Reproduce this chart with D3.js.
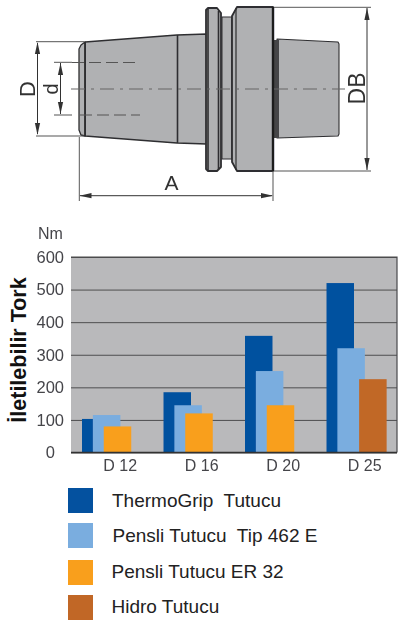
<!DOCTYPE html>
<html><head><meta charset="utf-8">
<script src="https://cdn.jsdelivr.net/npm/d3@7/dist/d3.min.js"></script>
<style>html,body{margin:0;padding:0;background:#fff}svg{display:block}text{font-family:"Liberation Sans",Arial,sans-serif}</style>
</head><body><svg id="c" width="401" height="625"><defs><filter id="soft" x="-5%" y="-5%" width="110%" height="110%"><feGaussianBlur stdDeviation="0.55"/></filter></defs></svg>
<script>
const categories = ["D 12","D 16","D 20","D 25"];
const seriesNames = ["ThermoGrip  Tutucu","Pensli Tutucu  Tip 462 E","Pensli Tutucu ER 32","Hidro Tutucu"];
const seriesColors = ["#04519f","#7aaddf","#f99f1c","#c16726"];
const thermoGrip = [103,185,358,520];
const pensli462 = [115,145,250,320];
const pensliER32 = [80,120,145,null];
const hidro = [null,null,null,225];
const tickValues = [0,100,200,300,400,500,600];
const allSeries = [thermoGrip,pensli462,pensliER32,hidro];

const svg = d3.select("#c");
const x = d3.scaleBand().domain(categories).range([71,397]);
const y = d3.scaleLinear().domain([0,600]).range([452.5,257]);
const sub = d3.scaleBand().domain(d3.range(4)).range([0,43.5]);

/* ---- technical drawing ---- */
const d = svg.append("g").attr("filter","url(#soft)");
const ink = "#2e2e30", body = "#b0b1b3";
const line = d3.line();
function shape(pts,w){
  d.append("path").attr("d",line(pts)+"Z").attr("fill",body)
   .attr("stroke",ink).attr("stroke-width",w).attr("stroke-linejoin","round");
}
shape([[85,42],[177,35],[207,34],[207,144],[177,143],[85,136]],1.5);
shape([[85,42],[81,45],[79,49],[79,130],[81,135],[85,136]],1.3);
d.append("path").attr("d","M85,42V136M177.5,35V143").attr("stroke",ink).attr("stroke-width",1.6);
shape([[277,39],[338,42],[339,44],[339,134],[338,136],[277,138]],1.1);
d.append("rect").attr("x",274).attr("y",40).attr("width",5).attr("height",98).attr("fill","#454547");
shape([[208,8],[217,8],[221,13],[221,167],[217,171],[208,171],[206,169],[206,10]],1.8);
d.append("path").attr("d","M208,9V170M218.5,11V169").attr("stroke",ink).attr("stroke-width",1.6);
d.append("rect").attr("x",222).attr("y",17).attr("width",10).attr("height",142).attr("fill",body).attr("stroke",ink).attr("stroke-width",1);
shape([[237,7],[273,7],[273,171],[237,171],[232,162],[232,16]],1.8);
d.append("path").attr("d","M236,8V170").attr("stroke",ink).attr("stroke-width",1.2);
d.append("path").attr("d","M273,7V171").attr("stroke","#1c1c1e").attr("stroke-width",2.4);
const thin = "#555";
d.append("path").attr("d","M36,41.7H84M36,136H84M274,7.3H371M274,171H371M79.3,137V201M273,171V201M54,62.3H72M54,115H72")
 .attr("stroke",thin).attr("stroke-width",1).attr("fill","none");
d.append("path").attr("d","M37.5,43V134M60.5,63V114M367,8V170M80,195.7H272")
 .attr("stroke","#333").attr("stroke-width",1).attr("fill","none");
d.append("path").attr("d","M72,62.5H140M80,115H140").attr("stroke","#555").attr("stroke-width",1.2).attr("stroke-dasharray","12 5").attr("fill","none");
d.append("path").attr("d","M71,89H345").attr("stroke","#666").attr("stroke-width",1.2).attr("stroke-dasharray","14 6 3 6").attr("fill","none");
const arrows = [[37.5,42,0],[37.5,135,180],[60.5,63,0],[60.5,114,180],[367,8,0],[367,170,180],[79.5,195.7,-90],[273,195.7,90]];
d.selectAll("path.a").data(arrows).join("path").attr("class","a")
 .attr("d","M0,0L-2.6,12L2.6,12Z").attr("fill","#333")
 .attr("transform",a=>`translate(${a[0]},${a[1]}) rotate(${a[2]})`);
const dimLabels = [["D",35,89,-90,22],["d",58,89,-90,20],["DB",365,88.5,-90,23],["A",171.5,190,0,21]];
d.selectAll("text").data(dimLabels).join("text").text(t=>t[0]).attr("text-anchor","middle")
 .attr("font-size",t=>t[4]).attr("fill","#333")
 .attr("transform",t=>`translate(${t[1]},${t[2]}) rotate(${t[3]})`);

/* ---- chart ---- */
const ch = svg.append("g").attr("filter","url(#soft)");
ch.append("rect").attr("x",71).attr("y",257).attr("width",326).attr("height",195.5).attr("fill","#b9b9bb");
const ya = ch.append("g").attr("transform","translate(71,0)")
 .call(d3.axisLeft(y).tickValues(tickValues).tickSize(0).tickPadding(7));
ya.select(".domain").remove();
ya.selectAll("text").attr("font-size",16.5).attr("fill","#45454a").attr("font-family","Liberation Sans")
  .attr("x",v=>v===0?-16:-7);
ya.selectAll(".tick line").attr("x2",326).attr("stroke","#4e4e50").attr("stroke-width",1);
ch.append("path").attr("d","M71,257H397V452.5").attr("fill","none").attr("stroke","#4a4a4c").attr("stroke-width",1.2);

allSeries.forEach((vals,i)=>{
  ch.append("g").selectAll("rect").data(vals.map((v,j)=>({v,c:categories[j]})).filter(o=>o.v!==null)).join("rect")
   .attr("x",o=>x(o.c)+11+sub(i))
   .attr("y",o=>y(o.v))
   .attr("width",27.5)
   .attr("height",o=>y(0)-y(o.v))
   .attr("fill",seriesColors[i]);
});
ch.append("path").attr("d","M71,452.5H397").attr("stroke","#333").attr("stroke-width",1.4);

const xa = ch.append("g").attr("transform","translate(8.5,452.5)")
 .call(d3.axisBottom(x).tickSize(0).tickPadding(7));
xa.select(".domain").remove();
xa.selectAll("text").attr("font-size",16).attr("fill","#45454a").attr("font-family","Liberation Sans");

ch.append("text").text("Nm").attr("x",38).attr("y",239).attr("font-size",16).attr("fill","#45454a");
svg.append("text").text("İletilebilir Tork").attr("text-anchor","middle").attr("font-weight","bold")
 .attr("font-size",21.5).attr("fill","#111").attr("transform","translate(26,350) rotate(-90)");

/* legend */
const legendTop = [488,523,560,595], legendTextX=[112,112.5,111.5,111.5], legendBase=[507,542,578,613];
const lg = svg.append("g");
lg.selectAll("rect").data(seriesNames).join("rect")
 .attr("x",68).attr("y",(n,i)=>legendTop[i]).attr("width",25).attr("height",25).attr("fill",(n,i)=>seriesColors[i]);
lg.selectAll("text").data(seriesNames).join("text").text(n=>n)
 .style("white-space","pre")
 .attr("x",(n,i)=>legendTextX[i]).attr("y",(n,i)=>legendBase[i]).attr("font-size",19).attr("fill","#222");
</script></body></html>
